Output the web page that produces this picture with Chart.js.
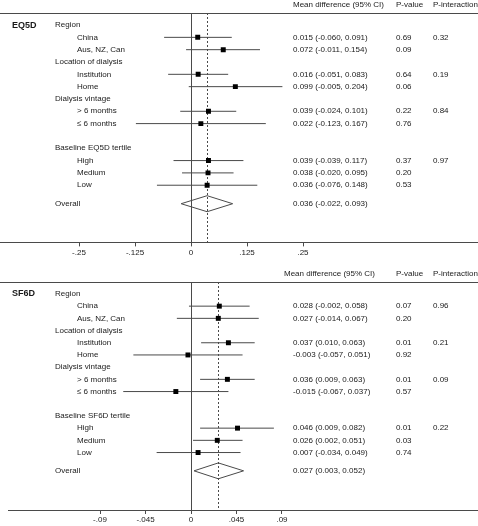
<!DOCTYPE html>
<html>
<head>
<meta charset="utf-8">
<script src="https://cdn.jsdelivr.net/npm/chart.js@4.4.1/dist/chart.umd.min.js"></script>
<style>
  body { margin: 0; background: #fff; }
  canvas { display: block; }
</style>
</head>
<body>
<canvas id="eq5d" width="478" height="263"></canvas>
<canvas id="sf6d" width="478" height="263"></canvas>
<script>
'use strict';

// rows shared by both panels
const subgroups = ['China', 'Aus, NZ, Can', 'Institution', 'Home', '> 6 months', '\u2264 6 months', 'High', 'Medium', 'Low'];
const groupRows = [0, 3, 6, 10];
const subRows = [1, 2, 4, 5, 7, 8, 11, 12, 13];
const pintRows = [0, 2, 4, 6]; // index into subgroups where P-interaction is printed
const overallRow = 14.5;

// EQ5D
const eqGroups = ['Region', 'Location of dialysis', 'Dialysis vintage', 'Baseline EQ5D tertile'];
const eqEst = [0.015, 0.072, 0.016, 0.099, 0.039, 0.022, 0.039, 0.038, 0.036];
const eqLo = [-0.060, -0.011, -0.051, -0.005, -0.024, -0.123, -0.039, -0.020, -0.076];
const eqHi = [0.091, 0.154, 0.083, 0.204, 0.101, 0.167, 0.117, 0.095, 0.148];
const eqP = ['0.69', '0.09', '0.64', '0.06', '0.22', '0.76', '0.37', '0.20', '0.53'];
const eqPint = ['0.32', '0.19', '0.84', '0.97'];
const eqOverall = [0.036, -0.022, 0.093];
const eqTicks = [-0.25, -0.125, 0, 0.125, 0.25];
const eqTickLabels = ['-.25', '-.125', '0', '.125', '.25'];

// SF6D
const sfGroups = ['Region', 'Location of dialysis', 'Dialysis vintage', 'Baseline SF6D tertile'];
const sfEst = [0.028, 0.027, 0.037, -0.003, 0.036, -0.015, 0.046, 0.026, 0.007];
const sfLo = [-0.002, -0.014, 0.010, -0.057, 0.009, -0.067, 0.009, 0.002, -0.034];
const sfHi = [0.058, 0.067, 0.063, 0.051, 0.063, 0.037, 0.082, 0.051, 0.049];
const sfP = ['0.07', '0.20', '0.01', '0.92', '0.01', '0.57', '0.01', '0.03', '0.74'];
const sfPint = ['0.96', '0.21', '0.09', '0.22'];
const sfOverall = [0.027, 0.003, 0.052];
const sfTicks = [-0.09, -0.045, 0, 0.045, 0.09];
const sfTickLabels = ['-.09', '-.045', '0', '.045', '.09'];

const fontFamily = '"Liberation Sans", Arial, Helvetica, sans-serif';
const textColor = '#1a1a1a';
const lineColor = '#4a4a4a';

function ciText(e, l, h) {
    return e.toFixed(3) + ' (' + l.toFixed(3) + ', ' + h.toFixed(3) + ')';
}

// reference lines: top rule, zero line, dashed overall line
const forestLines = {
    id: 'forestLines',
    beforeDatasetsDraw(chart, args, o) {
        const { ctx, chartArea, scales: { x } } = chart;
        ctx.save();
        ctx.strokeStyle = lineColor;
        ctx.lineWidth = 1;
        ctx.beginPath();
        ctx.moveTo(0, Math.round(chartArea.top) + 0.5);
        ctx.lineTo(chart.width, Math.round(chartArea.top) + 0.5);
        ctx.stroke();

        const x0 = Math.round(x.getPixelForValue(0)) + 0.5;
        ctx.beginPath();
        ctx.moveTo(x0, chartArea.top);
        ctx.lineTo(x0, chartArea.bottom);
        ctx.stroke();

        const xd = Math.round(x.getPixelForValue(o.overall[0])) + 0.5;
        ctx.setLineDash([2, 2]);
        ctx.beginPath();
        ctx.moveTo(xd, chartArea.top);
        ctx.lineTo(xd, chartArea.bottom);
        ctx.stroke();
        ctx.restore();
    }
};

// text columns
const forestText = {
    id: 'forestText',
    afterDraw(chart, args, o) {
        const { ctx, chartArea, scales: { y } } = chart;
        ctx.save();
        ctx.fillStyle = textColor;
        ctx.textAlign = 'left';
        ctx.textBaseline = 'middle';

        ctx.font = 'bold 9px ' + fontFamily;
        ctx.fillText(o.title, 12, y.getPixelForValue(groupRows[0]));

        ctx.font = '8px ' + fontFamily;
        const hy = chartArea.top - 8;
        ctx.fillText('Mean difference (95% CI)', o.headX, hy);
        ctx.fillText('P-value', 396, hy);
        ctx.fillText('P-interaction', 433, hy);

        o.groups.forEach((g, i) => ctx.fillText(g, 55, y.getPixelForValue(groupRows[i])));
        subgroups.forEach((s, i) => {
            const py = y.getPixelForValue(subRows[i]);
            ctx.fillText(s, 77, py);
            ctx.fillText(ciText(o.est[i], o.lo[i], o.hi[i]), 293, py);
            ctx.fillText(o.p[i], 396, py);
        });
        pintRows.forEach((r, i) => ctx.fillText(o.pint[i], 433, y.getPixelForValue(subRows[r])));

        const oy = y.getPixelForValue(overallRow);
        ctx.fillText('Overall', 55, oy);
        ctx.fillText(ciText(o.overall[0], o.overall[1], o.overall[2]), 293, oy);
        ctx.restore();
    }
};

function forestPanel(canvasId, cfg) {
    const points = cfg.est.map((v, i) => ({ x: v, y: subRows[i] }));
    const ciLines = [];
    cfg.est.forEach((v, i) => {
        ciLines.push({ x: cfg.lo[i], y: subRows[i] }, { x: cfg.hi[i], y: subRows[i] }, { x: null, y: null });
    });
    const [oe, ol, oh] = cfg.overall;
    const dh = 0.65;
    const diamond = [
        { x: ol, y: overallRow }, { x: oe, y: overallRow - dh },
        { x: oh, y: overallRow }, { x: oe, y: overallRow + dh }, { x: ol, y: overallRow }
    ];

    new Chart(document.getElementById(canvasId), {
        type: 'scatter',
        data: {
            datasets: [
                {
                    data: points,
                    order: 0,
                    pointStyle: 'rect',
                    pointRadius: 3.5,
                    backgroundColor: '#000',
                    borderColor: '#000',
                    borderWidth: 0
                },
                {
                    type: 'line',
                    data: ciLines,
                    order: 1,
                    showLine: true,
                    spanGaps: false,
                    borderColor: lineColor,
                    borderWidth: 1,
                    pointRadius: 0,
                    fill: false
                },
                {
                    type: 'line',
                    data: diamond,
                    order: 2,
                    showLine: true,
                    borderColor: lineColor,
                    borderWidth: 1,
                    pointRadius: 0,
                    fill: false,
                    tension: 0
                }
            ]
        },
        options: {
            responsive: false,
            animation: false,
            events: [],
            layout: {
                autoPadding: false,
                padding: { top: cfg.padTop, bottom: cfg.padBottom, left: cfg.padLeft, right: 0 }
            },
            scales: {
                x: {
                    type: 'linear',
                    min: cfg.xMin,
                    max: cfg.xMax,
                    afterBuildTicks: (scale) => { scale.ticks = cfg.ticks.map(v => ({ value: v })); },
                    grid: {
                        display: true,
                        drawOnChartArea: false,
                        drawTicks: true,
                        tickLength: 4,
                        color: lineColor
                    },
                    border: { display: true, color: lineColor, width: 1 },
                    ticks: {
                        padding: 2,
                        maxRotation: 0,
                        autoSkip: false,
                        color: textColor,
                        font: { family: fontFamily, size: 8, lineHeight: 1 },
                        callback: (v, i) => cfg.tickLabels[i]
                    }
                },
                y: {
                    type: 'linear',
                    reverse: true,
                    display: false,
                    min: cfg.yMin,
                    max: cfg.yMax
                }
            },
            plugins: {
                legend: { display: false },
                tooltip: { enabled: false },
                forestLines: { overall: cfg.overall },
                forestText: cfg
            }
        },
        plugins: [forestLines, forestText]
    });
}

forestPanel('eq5d', {
    title: 'EQ5D', groups: eqGroups, est: eqEst, lo: eqLo, hi: eqHi, p: eqP, pint: eqPint,
    overall: eqOverall, ticks: eqTicks, tickLabels: eqTickLabels,
    headX: 293, padTop: 13, padBottom: 4.6, padLeft: 0,
    xMin: -191 / 448, xMax: 287 / 448, yMin: -0.976, yMax: 17.64
});

forestPanel('sf6d', {
    title: 'SF6D', groups: sfGroups, est: sfEst, lo: sfLo, hi: sfHi, p: sfP, pint: sfPint,
    overall: sfOverall, ticks: sfTicks, tickLabels: sfTickLabels,
    headX: 284, padTop: 19, padBottom: 0, padLeft: 8,
    xMin: -183 / 1011, xMax: 287 / 1011, yMin: -0.98, yMax: 17.71
});
</script>
</body>
</html>
